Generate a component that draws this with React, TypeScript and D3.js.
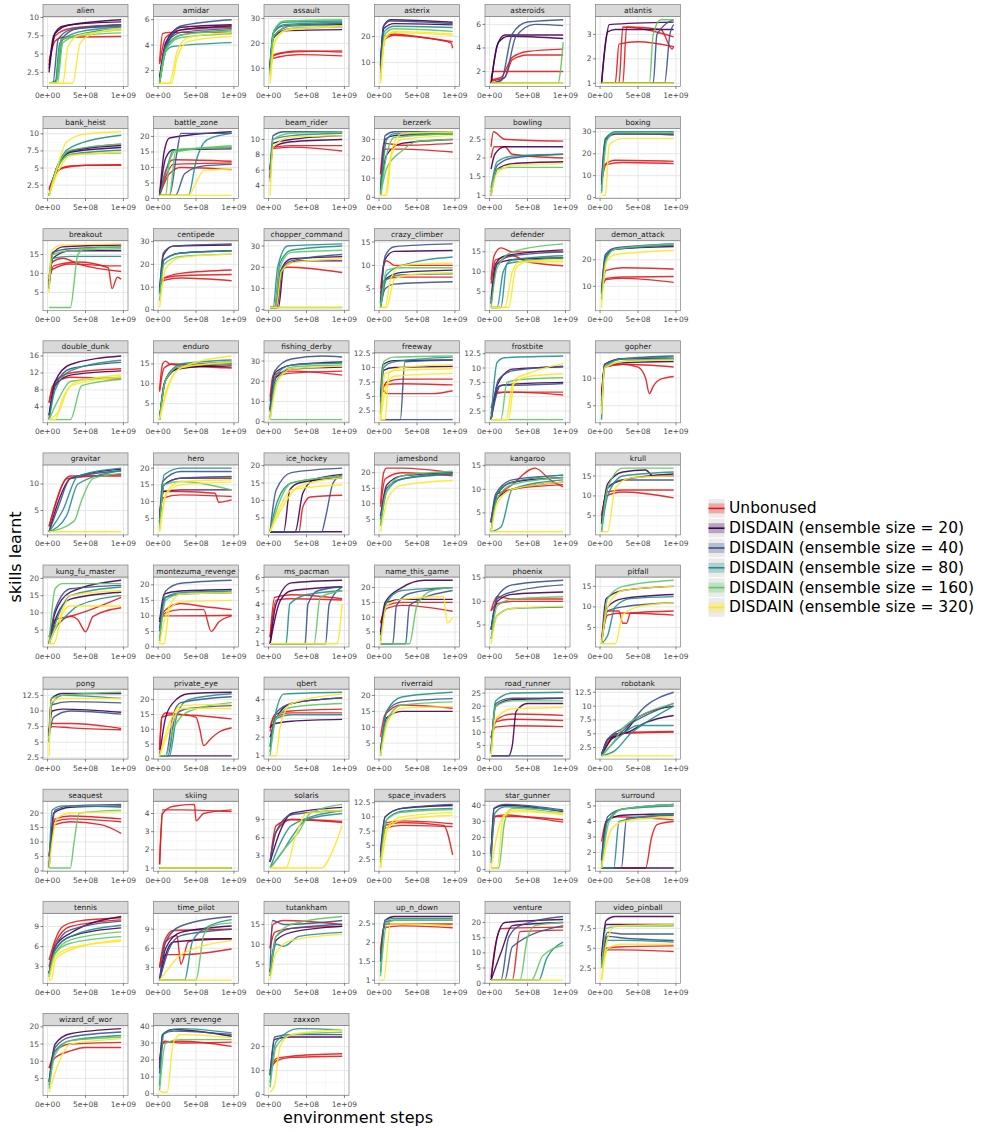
import React from 'react';
import * as d3 from 'd3';

const GAMES = [
  'alien', 'amidar', 'assault', 'asterix', 'asteroids', 'atlantis',
  'bank_heist', 'battle_zone', 'beam_rider', 'berzerk', 'bowling', 'boxing',
  'breakout', 'centipede', 'chopper_command', 'crazy_climber', 'defender', 'demon_attack',
  'double_dunk', 'enduro', 'fishing_derby', 'freeway', 'frostbite', 'gopher',
  'gravitar', 'hero', 'ice_hockey', 'jamesbond', 'kangaroo', 'krull',
  'kung_fu_master', 'montezuma_revenge', 'ms_pacman', 'name_this_game', 'phoenix', 'pitfall',
  'pong', 'private_eye', 'qbert', 'riverraid', 'road_runner', 'robotank',
  'seaquest', 'skiing', 'solaris', 'space_invaders', 'star_gunner', 'surround',
  'tennis', 'time_pilot', 'tutankham', 'up_n_down', 'venture', 'video_pinball',
  'wizard_of_wor', 'yars_revenge', 'zaxxon',
];

const Y_TICKS = [
  [2.5, 5, 7.5, 10], [2, 4, 6], [10, 20, 30], [10, 20], [2, 4, 6], [1, 2, 3],
  [2.5, 5, 7.5, 10], [0, 5, 10, 15, 20], [4, 6, 8, 10], [0, 10, 20, 30], [1, 1.5, 2, 2.5], [0, 10, 20, 30],
  [5, 10, 15], [0, 10, 20, 30], [0, 10, 20, 30], [5, 10, 15], [5, 10, 15], [10, 20],
  [4, 8, 12, 16], [5, 10, 15], [0, 10, 20, 30], [2.5, 5, 7.5, 10, 12.5], [2.5, 5, 7.5, 10, 12.5], [5, 10],
  [5, 10], [5, 10, 15, 20], [5, 10, 15, 20], [5, 10, 15, 20], [5, 10, 15], [5, 10, 15],
  [5, 10, 15, 20], [0, 5, 10, 15, 20], [1, 2, 3, 4, 5, 6], [0, 5, 10, 15, 20], [5, 10, 15], [5, 10, 15],
  [2.5, 5, 7.5, 10, 12.5], [0, 5, 10, 15, 20], [1, 2, 3, 4], [5, 10, 15, 20], [0, 5, 10, 15, 20, 25], [2.5, 5, 7.5, 10, 12.5],
  [0, 5, 10, 15, 20], [1, 2, 3, 4], [3, 6, 9], [2.5, 5, 7.5, 10, 12.5], [0, 10, 20, 30, 40], [1, 2, 3, 4, 5],
  [3, 6, 9], [3, 6, 9], [5, 10, 15], [1, 1.5, 2, 2.5], [0, 5, 10, 15, 20], [2.5, 5, 7.5],
  [5, 10, 15, 20], [0, 10, 20, 30, 40], [0, 10, 20],
];

const X_TICKS = [0, 5e8, 1e9];
const X_TICK_LABELS = ['0e+00', '5e+08', '1e+09'];

const SERIES_NAMES = [
  'Unbonused',
  'DISDAIN (ensemble size = 20)',
  'DISDAIN (ensemble size = 40)',
  'DISDAIN (ensemble size = 80)',
  'DISDAIN (ensemble size = 160)',
  'DISDAIN (ensemble size = 320)',
];
const SERIES_COLORS = ['#E41A1C', '#440154', '#3B528B', '#21908C', '#5DC863', '#FDE725'];

// one string per game; runs split by ';', points "step(1e8),skills"
const UNBONUSED = [
  '0.2,4 1,6.8 2,7.3 9.7,7.4;0.2,3.5 1,7.5 3,8.5 9.7,9',
  '0.2,2.7 0.6,4.9 1.5,5 9.7,5;0.2,2.5 1,4.6 3,5.2 9.7,5.4',
  '0.2,11 0.6,15 3,16.5 9.7,17;0.2,10 0.6,14 4,15.5 9.7,15;0.2,10 0.7,15.5 4,17 9.7,16.5',
  '0.2,8 0.7,20 2,21 5,20 9.7,18;0.2,7 0.8,19 2,20.5 6,19.5 9.5,17.5 9.7,15.5',
  '0.2,1.4 0.5,2 9.7,2;0.2,1.3 1.5,1.5 3,3.2 5,3.7 9.7,3.9;0.2,1.2 2,1.5 3,3 5,3.4 9.7,3.4',
  '0.2,1 2.5,1 3,3.3 6,3.2 9.7,2.9;0.2,1 2,1 2.5,2.6 5,2.7 9.7,2.5;0.2,1 3,1 3.5,3.3 8,3.2 9.5,2.4 9.7,2.5',
  '0.2,2 1,4 2,5 5,5.4 9.7,5.4;0.2,1.8 1.2,4.5 3,5.3 9.7,5.5',
  '0.2,1 1,7 2,11 9.7,11.5;0.2,1 1,9 2,12.5 9.7,12;0.2,1 1.5,8 3,10 9.7,9.3',
  '0.2,5 0.6,9 3,9.2 9.7,9.2;0.2,5 0.6,8.8 3,9 9.7,8.5',
  '0.2,12 0.6,28 3,27 9.7,28;0.2,12 0.8,25 3,25 9.7,23.5',
  '0.2,2.3 0.5,2.7 2,2.5 9.7,2.45;0.2,2 0.6,2.3 2,2.3 3,2.1 9.7,2',
  '0.2,8 0.6,15 2,17 9.7,16.5;0.2,7 0.8,15 3,16 9.7,15.5',
  '0.2,8 0.6,11 3,12.5 8.5,12 9.7,12;0.2,8 0.8,12 4,13 8,11.5 8.5,6 9.2,9 9.7,8.5;0.2,9 0.6,13 2,14 4,12.5 9.7,10.5',
  '0.2,10 0.8,14 3,16 9.7,17.5;0.2,10 0.8,13 3,14 9.7,12.8;0.2,10 0.8,14 3,15 9.7,15.5',
  '0.2,1 1,1 1.5,18 2.5,20 9.7,17.5',
  '0.2,5 0.6,10 1,11 2,10 9.7,10;0.2,4 0.8,7 3,7.5 9.7,7.5',
  '0.2,8 0.6,14 1.5,16 3,15 9.7,15;0.2,7 0.8,13 3,14 5,12.5 9.7,11.5',
  '0.2,9 0.8,16 3,17 9.7,16.5;0.2,9 0.8,12.5 3,13 9.7,11.5;0.2,9 0.8,13 3,13.5 9.7,13.7',
  '0.2,5 0.7,9 3,11 9.7,10.5;0.2,5 1,10 3,12 9.7,13',
  '0.2,8.5 0.6,15 1,15.7 1.5,15 9.7,14;0.2,8 0.8,14 2,15 9.7,14',
  '0.2,12 0.6,23 3,25 9.7,23;0.2,10 0.8,22 3,24 9.7,25',
  '0.2,4 0.6,6 1,5.5 7,5.5 9.7,6;0.2,5 0.7,7 3,7.2 9.7,7;0.2,5 1,7.5 3,8 9.7,8',
  '0.2,3 1,5.8 3,5.8 9.7,5.3;0.2,2 1,5.6 3,5.8 9.7,5.8',
  '0.2,7 0.6,12 3,12.5 5,12 6,10 6.5,7.2 7,8.5 8,9.8 9.7,10.3;0.2,7 0.6,12 3,12.5 9.7,12',
  '0.2,2 1,6 2,10 3,11.5 9.7,11.5;0.2,2 1.2,7 2.5,11 9.7,11.8',
  '0.2,5 0.6,11 3,12 9.7,11.5;0.2,7 0.8,13 3,13 7.5,12.5 8,9.8 9.7,10.5',
  '0.2,1 4,1 4.5,8 5.5,11 9.7,11.5',
  '0.2,10 0.6,20 1,21.5 3,21.5 9.7,20;0.2,9 0.8,18 3,20 9.7,19',
  '0.2,3 1,8 3,11 6,14.5 8,12 9.7,10.5;0.2,3 1,9 3,10 9.7,11',
  '0.2,5 0.8,10 3,11 9.7,9.5;0.2,5 1,11 3,11.5 9.7,11.5',
  '0.2,3 1,6 2,8 3,9 4,8 4.5,6 5,4.5 6,9 9.7,11.5;0.2,3 1,8 3,9 9.7,14.5',
  '0.2,9 0.8,10 2,10 9.7,10.2;0.2,9 1,11 3,12 6,12 7,5 8,8 9.7,10;0.2,9 1,12 3,14 6,13 9.7,12',
  '0.2,1.5 0.8,4.5 3,4.7 9.7,4.4;0.2,1.5 1,4.3 3,4.4 9.7,4.3',
  '0.2,8 1,14 3,15 9.7,15;0.2,8 1,13 3,14 9.7,12',
  '0.2,8 0.6,10 1,11 3,10.5 9.7,10.5;0.2,8 1,9.5 3,10 9.7,10',
  '0.2,2 1,8 3,8.5 9.7,8;0.2,2 1,9 2.5,9 3,6 3.5,6 4,8.5 9.7,9',
  '0.2,7 0.6,8 3,8 8,7.5 9.7,7.2;0.2,7 0.6,7.5 3,7.3 9.7,7',
  '0.2,3 0.5,14 1,15.5 3,15 5,14 5.5,10 6,4.5 7,7 8,9 9.7,10.5;0.2,3 0.5,14 2,15 9.7,13.5',
  '0.2,2.3 0.6,3 3,3.3 9.7,3.3;0.2,2.5 0.8,3.2 3,3.4 9.7,3.5',
  '0.2,7 0.8,14 3,17 9.7,16',
  '0.2,8 0.8,12 3,12.5 9.7,12.2;0.2,8 0.8,14 3,15 9.7,14.5;0.2,8 1,15 3,17 9.7,16.5',
  '0.2,1.5 1,3 2,5 9.7,5.3;0.2,1.5 1,3.5 3,5.2 9.7,5.4',
  '0.2,5 0.8,17 3,18 9.7,17;0.2,5 1,16 3,17 7,16 9.7,13;0.2,5 1,18 3,19 9.7,18',
  '0.2,1.2 0.6,4 2,4.4 4.8,4.5 5,3.6 6,4 9.7,4.2;0.2,1.2 0.6,4.2 3,4.2 9.7,4.1',
  '0.2,2 1,7 3,9 9.7,8.7;0.2,2 1,8 3,9 9.7,8.5',
  '0.2,3 0.8,8.5 3,9 8.5,8.5 9.7,3.3;0.2,3 0.8,8 3,8.5 9.7,8.3;0.2,3 1,9 3,9.3 9.7,8.8',
  '0.2,10 0.6,33 2,34 6,32 9.7,29.5;0.2,12 0.8,33 3,33 9.7,31',
  '0.2,2.7 0.8,4 2,4.3 9.7,4.1;0.2,1 6,1 6.8,3 7.5,3.8 9.7,4',
  '0.2,4 1,7 2,9 4,9.8 9.7,10.3;0.2,3 1,6.5 3,9 9.7,10',
  '0.2,3 0.8,7 2,8.8 9.7,9;0.2,3 1,7 2.5,8 3,3.5 4,7 6,7.5 9.7,7.5;0.2,3 1,5 3,5 9.7,5.9',
  '0.2,9 0.6,15 2,16 9.7,15;0.2,9 0.8,13 3,14 9.7,14.5',
  '0.2,1.7 0.6,2.4 3,2.45 9.7,2.4;0.2,1.8 0.8,2.5 3,2.5 9.7,2.5',
  '0.2,2 0.6,10 1.5,18 9.7,18.5;0.2,1 3,1 4,17 9.7,17.5',
  '0.2,3 1,4.8 3,4.8 9.7,4.6;0.2,3 0.8,5 3,5.2 9.7,5.3',
  '0.2,8 1,11 3,13 5,14 9.7,14;0.2,8 1,13 3,15 9.7,15.5',
  '0.2,20 0.6,30 3,31 9.7,28;0.2,18 0.8,31 3,30 9.7,30.5',
  '0.2,10 1,14 3,15.5 9.7,16;0.2,10 1,15 3,16 9.7,17',
];

const DISDAIN_20 = [
  '0.2,3 0.8,7.5 2,8.8 9.7,9.7;0.2,2.5 1,7.8 3,9 9.7,9.4',
  '0.2,1.5 1,4 3,5.2 9.7,5.5;0.2,1.2 1,4.2 3,5.4 9.7,5.6',
  '0.2,10 0.6,22 2,25 9.7,25.5;0.2,11 0.7,23 3,27 9.7,27.5',
  '0.2,10 0.6,24 1.5,26.5 9.7,25.5;0.2,9 0.6,23 2,25 9.7,24.5',
  '0.2,1 1,4.2 2,5.1 9.7,5.1;0.2,1 1.2,4.5 2.5,5 9.7,4.8',
  '0.2,1 0.8,2.8 1.2,3.4 9.7,3.5;0.2,1 1,3.1 2,3.2 9.7,3.2',
  '0.2,1 1.2,5 3,7.3 9.7,8;0.2,1 1.3,5 3,7.5 9.7,8.3',
  '0.2,1 0.8,15 1.5,19.5 9.7,21.5;0.2,1 1,13 2,15.7 9.7,16',
  '0.2,6 0.6,9.5 3,10 9.7,10.5;0.2,6 0.6,9 3,9.7 9.7,10',
  '0.2,3 1,22 3,28 9.7,30;0.2,4 0.8,30 2,32 9.7,33',
  '0.2,1.7 0.7,2.1 2,2.3 9.7,2.3;0.2,1 1,1.7 3,1.85 9.7,1.9',
  '0.2,6 0.7,26 2,29 9.7,29',
  '0.2,6 0.6,15 2,17 9.7,17.5;0.2,7 0.7,14 3,16 9.7,16',
  '0.2,8 0.7,24 2,28 9.7,28.5;0.2,8 0.8,22 3,25 9.7,26',
  '0.2,1 1.1,1 1.8,20 3,24 9.7,25;0.2,1 1.3,1 2,20 4,23 9.7,23',
  '0.2,2 0.7,11 2,13 9.7,13.2;0.2,2 0.8,7 3,8.5 9.7,9',
  '0.2,3 0.8,12 2,14 9.7,15.5;0.2,2 1,12 3,13 9.7,13.5',
  '0.2,8 0.7,21 2,24 9.7,25',
  '0.2,2 1,10 3,14 9.7,16;0.2,2 1,9 3,11.5 9.7,12.5',
  '0.2,1 0.8,10 2,13.5 9.7,15;0.2,1 1,11 3,14 9.7,14.5',
  '0.2,6 0.8,24 3,28 9.7,29.5;0.2,5 1,22 3,26 9.7,27',
  '0.2,5 0.5,10.5 2,11.2 9.7,11.3;0.2,4 0.6,9.5 2,10 9.7,10.2',
  '0.2,1 1,7 3,9.8 9.7,10.2;0.2,1 1.2,6.8 3,7.2 9.7,7.5',
  '0.2,6 0.6,12.5 3,13.5 9.7,13.5;0.2,5 0.6,12 3,12.8 9.7,13',
  '0.2,1 1.5,7 3,11 9.7,12.8',
  '0.2,4 0.6,13 3,13.5 9.7,13.5;0.2,4 0.8,15 3,17 9.7,17',
  '0.2,1 2,1 2.8,13 4,15 9.7,16.5;0.2,1 3.5,1 4.5,12 6,16 9.7,17.5;0.2,1 9.7,1',
  '0.2,6 1,16 3,19 9.7,20',
  '0.2,3.5 1,9 3,11.5 9.7,12.5;0.2,3 1,8 3,10 9.7,11.5',
  '0.2,3.5 1,13 3,16 6,16.5 7,15 9.7,15;0.2,3 1,12 3,14 9.7,15.5',
  '0.2,1 1,10 3,16 9.7,19.5;0.2,1 1.2,9 3,14 9.7,16',
  '0.2,8 0.8,17 3,18 9.7,18.5',
  '0.2,1 1,4 3,5.6 9.7,5.8;0.2,1 1.5,4.2 3,5 9.7,5.3',
  '0.2,5 0.8,15 3,20 6,22.5 9.7,22.5;0.2,4 1,15 3,16 9.7,16',
  '0.2,4 1,10 3,11.5 9.7,12',
  '0.2,1 0.8,12 3,14 9.7,15;0.2,1 1,10 3,12 9.7,13',
  '0.2,6.5 0.5,12 2,12.8 9.7,12.8;0.2,6.5 0.6,10 2,10.3 9.7,9.8',
  '0.2,1 9.7,1;0.2,1 1,14 2,19 4,22 9.7,22.5',
  '0.2,2.5 0.6,2.7 3,2.85 9.7,2.95;0.2,2 1,3 3,3.8 9.7,4.1',
  '0.2,3 1,13 3,15 9.7,15',
  '0.2,1 2.5,1 3,5 3.5,18 5,21 9.7,21;0.2,3 0.8,20 3,22.5 9.7,23',
  '0.2,1 1,4 3,5 5,8 9.7,10;0.2,1 1.5,4 4,5.5 6,7 9.7,8.3',
  '0.2,1 0.8,20 3,22 9.7,22.5',
  '0.2,1 9.7,1',
  '0.2,2 1.5,7 3,10 9.7,11',
  '0.2,4 0.8,10 3,11.5 9.7,12',
  '0.2,10 0.6,38 2,40 9.7,36',
  '0.2,1 9.7,1;0.2,1.5 0.8,4 3,4.4 9.7,4.5',
  '0.2,2 1,6 3,8 9.7,10.5;0.2,2 1,5.5 3,7.5 9.7,8.8',
  '0.2,1 1,5 2,7 9.7,7.5;0.2,1 1,6 3,8.5 9.7,9.5',
  '0.2,3 1,11 3,13 9.7,14.5',
  '0.2,1.5 0.8,2.6 2,2.7 9.7,2.7',
  '0.2,1 1,15 2,20 9.7,21;0.2,1 1.5,10 3,19 9.7,20',
  '0.2,4 0.8,8.5 2,9 9.7,9;0.2,3.5 0.8,8 3,8 9.7,8',
  '0.2,4 1,15 3,18 9.7,19.5',
  '0.2,15 0.6,35 2,38 9.7,34',
  '0.2,8 0.8,23 3,24 9.7,24',
];

const DISDAIN_40 = [
  '0.2,1 0.7,1 1.4,7 3,8.3 9.7,9;0.2,1 1,1 1.8,7 4,8.5 9.7,8.8',
  '0.2,1 1.2,4 3,5.5 9.7,6;0.2,1 1,4 3,5 9.7,5.3',
  '0.2,11 0.6,24 2,27 9.7,28;0.2,12 0.6,22 3,26 9.7,26.5',
  '0.2,9 0.6,24 1.5,26 9.7,25',
  '0.2,1 1.5,1.2 3,5.2 5,6.2 9.7,6.4;0.2,1 2,1.5 3.5,5 6,6 9.7,5.9',
  '0.2,1 7,1 7.5,3 9.7,3.6;0.2,1 8.5,1 9.2,3 9.7,3.4;0.2,1 9.7,1',
  '0.2,1 1.2,5 3,7.5 9.7,8.5',
  '0.2,1 1.5,1 2.5,15 3,21 9.7,21;0.2,1 2.3,1 3.5,8 6,10.5 9.7,11',
  '0.2,6 0.6,10.5 2,11 9.7,11',
  '0.2,2 0.8,32 2,34 9.7,34',
  '0.2,1.1 1,1.8 3,2 9.7,2.1',
  '0.2,8 0.7,27 2,29.5 9.7,28.5',
  '0.2,8 0.6,15.5 3,16.5 9.7,17',
  '0.2,8 0.7,25 2,28 9.7,29',
  '0.2,1 0.8,1 1.5,18 3,23 9.7,26',
  '0.2,2 0.8,12 2,14 9.7,14.6;0.2,1 0.8,5 2,6 9.7,6.5',
  '0.2,2 1,12 3,14 9.7,15',
  '0.2,8 0.7,22 2,24.5 9.7,26',
  '0.2,1 1,9 3,13 9.7,14.5',
  '0.2,1 1,11 3,14.5 9.7,15.5',
  '0.2,6 0.8,25 3,31 7,32.5 9.7,32',
  '0.2,1 2.8,1 3.4,11 9.7,11.3;0.2,1 9.7,1',
  '0.2,1 1.5,7 3,7 9.7,7.3;0.2,1 1.2,8 3,9.5 9.7,10.3',
  '0.2,5 0.6,12.5 3,13.5 9.7,14',
  '0.2,1 1.5,6 3,11 9.7,12.5',
  '0.2,4 0.6,16 3,19 9.7,19;0.2,3 0.8,15 3,17 9.7,17.5',
  '0.2,1 1,13 3,18 9.7,19.3;0.2,1 7,1 7.5,5 8.5,15 9.7,17.5',
  '0.2,5 1,15 3,18 9.7,19.5',
  '0.2,3 0.8,9 3,12 9.7,13',
  '0.2,3 1,12 3,14 9.7,14',
  '0.2,1 1,11 3,17 9.7,18',
  '0.2,6 1,18 3,20.5 9.7,21.5;0.2,5 1,16 3,17 9.7,17.5',
  '0.2,1 4.8,1 5.2,4 6.5,5 9.7,5.3;0.2,1 7.5,1 8,4 9.7,5.3',
  '0.2,1 1.8,1 2.3,14 4,18 9.7,20;0.2,1 3.5,1 4,14 9.7,19',
  '0.2,4 1,11 3,13.5 9.7,14.5;0.2,4 1,10.5 3,12 9.7,13.5',
  '0.2,1 1,9 3,10 9.7,11',
  '0.2,6 0.8,9 3,10 9.7,9.5;0.2,6 0.6,11 3,11.5 9.7,11.3',
  '0.2,1 1,1 2,15 3,19 9.7,21;0.2,1 1.3,1 2.3,15 4,17 9.7,18',
  '0.2,1.5 1,3.3 3,3.8 9.7,4.1',
  '0.2,2 1,15 3,18 9.7,19',
  '0.2,1 9.7,1;0.2,3 0.8,21 3,23 9.7,23',
  '0.2,1 1,4 3,5.5 6,10 9.7,12.5;0.2,1 1,4 3,6 9.7,10.5',
  '0.2,1 1,21 3,22.5 9.7,23',
  '0.2,1 9.7,1',
  '0.2,2 1,7 3,9.8 9.7,10.5',
  '0.2,3 0.8,10 3,11.5 9.7,12.2',
  '0.2,8 0.6,38 2,40.5 9.7,37',
  '0.2,1 2.8,1 3.5,4.2 9.7,4.4;0.2,1.5 1,4.3 3,4.8 9.7,5.1',
  '0.2,2 1,6 3,8.5 9.7,9.8',
  '0.2,1 1,7 3,9.5 9.7,11;0.2,1 1.5,6 3,8 9.7,9',
  '0.2,3 0.5,16 2,15 9.7,16;0.2,3 1,12 3,14 9.7,15',
  '0.2,1.5 0.8,2.55 2,2.6 9.7,2.6',
  '0.2,1 1.5,1 2.5,15 4,19 9.7,22;0.2,1 2,1 3,12 9.7,19',
  '0.2,3 1,6.5 3,6.3 9.7,6;0.2,3 1,7 3,6.8 9.7,6.8',
  '0.2,4 1,14 3,17 9.7,18.5',
  '0.2,12 0.6,35 2,37 9.7,35',
  '0.2,8 0.8,24 3,25 9.7,25',
];

const DISDAIN_80 = [
  '0.2,1 1,1 1.6,6.5 4,8 9.7,8.7;0.2,1 1.2,1.5 2,7 9.7,8.5',
  '0.2,1 1,3.5 2,3.9 9.7,4.2;0.2,1 1,3.8 3,4.8 9.7,5.2',
  '0.2,9 0.7,25 2,28.5 9.7,29;0.2,9 0.6,24 2,27.5 9.7,28.5',
  '0.2,6 0.7,22 2,24 9.7,23.5',
  '0.2,1 9.7,1',
  '0.2,1 9.7,1',
  '0.2,1 1.2,5 3,8 9.7,9.8;0.2,1 1.3,5 3,7 9.7,7.6',
  '0.2,1 4,1 5,12 6.5,19 9.7,21;0.2,1 1.2,10 2,15.5 9.7,16.5',
  '0.2,5 0.6,10 3,10.5 9.7,10.8',
  '0.2,2 1,30 2,33 9.7,33',
  '0.2,1.2 1,1.9 3,2.05 9.7,2.1',
  '0.2,3 0.8,27 2,30 9.7,30',
  '0.2,7 0.7,14 3,14.5 9.7,14.5',
  '0.2,7 0.8,22 3,25 9.7,26',
  '0.2,1 0.6,1 1.2,20 2.5,30 9.7,31;0.2,1 0.8,1 1.5,22 3,28 9.7,30',
  '0.2,1 1,8 3,10 9.7,11.8;0.2,1 1,7 3,8 9.7,8.2',
  '0.2,1 1,1 1.8,10 3,13 9.7,14;0.2,1 1.5,1 2.3,12 9.7,13.5',
  '0.2,7 0.8,21 2,24 9.7,25.5',
  '0.2,1 1,8 3,12.5 9.7,15',
  '0.2,1 1,11 3,15 9.7,16',
  '0.2,2 1,23 3,28 9.7,29',
  '0.2,2 0.6,10 2,11 9.7,11.8',
  '0.2,1 1,11 2,11.8 9.7,12.1',
  '0.2,2.5 0.6,12 3,13.5 9.7,13.8',
  '0.2,1 2,5 4,11.5 9.7,13;0.2,1 2.5,4 4,10 9.7,12.5',
  '0.2,2 0.8,18 3,20 9.7,20',
  '0.2,1 1.2,10 3,15 9.7,17',
  '0.2,3 1,14 3,18 9.7,20',
  '0.2,1 1.5,2 3,10 9.7,12;0.2,1 1,9 3,11.5 9.7,13',
  '0.2,1 1,10 3,15 9.7,16',
  '0.2,1 1.2,8 3,15 9.7,17.5;0.2,1 1.2,6 2,8 4,12 9.7,15',
  '0.2,2 1,16 3,17.5 9.7,18',
  '0.2,1 2.3,1 2.8,4 5,4.7 9.7,5',
  '0.2,2 1,15 3,19 9.7,20',
  '0.2,2 1,7 3,8.5 9.7,8.8',
  '0.2,1 1,3 2,10 4,12 9.7,12.5',
  '0.2,5 0.5,11 2,12.5 9.7,12',
  '0.2,1 1.5,1 2.5,15 4,20 9.7,22',
  '0.2,1.5 1,3.4 2,4.3 9.7,4.4;0.2,1.2 1,3 3,3.2 9.7,3.2',
  '0.2,1 1,15 3,19.5 9.7,21',
  '0.2,2 0.8,22 3,25 9.7,25.3',
  '0.2,1 2,2 4,5 6,7 9.7,10;0.2,1 1.5,3 3,5 5,6.5 9.7,6.5',
  '0.2,1 0.6,21 2,22.5 9.7,22',
  '0.2,1 9.7,1',
  '0.2,1 2,4 3,6 5,9 9.7,10;0.2,1 1.5,5 3,8 9.7,10.5',
  '0.2,2 1,9.5 3,11 9.7,11.5',
  '0.2,4 0.7,35 2,39 9.7,36.5',
  '0.2,1 1.8,1 2.5,4 9.7,4.5;0.2,1 1,4 3,4.8 9.7,5',
  '0.2,2 1,5.5 3,7.5 9.7,9.2',
  '0.2,1 3.5,1 4.5,7 6,9 9.7,10.5',
  '0.2,2 1,10 2,9.5 4,12 9.7,13',
  '0.2,1.2 0.8,2.6 2,2.65 9.7,2.65',
  '0.2,1 6.5,1 7.5,8 9.7,13.5',
  '0.2,2.5 1,6 3,6 9.7,5.8',
  '0.2,3 1,13 3,16 9.7,17.5',
  '0.2,5 0.8,36 3,38.5 9.7,36',
  '0.2,5 1,22 4,27.5 9.7,27',
];

const DISDAIN_160 = [
  '0.2,1 1.3,1 2,6.5 4,7.5 9.7,7.9;0.2,1 1.1,1 1.8,7 9.7,8.3',
  '0.2,1 1,3.5 3,4.8 9.7,5.1;0.2,1 1.2,3.8 3,4.6 9.7,4.9',
  '0.2,8 0.7,25 2,29 9.7,29.5;0.2,7 0.7,23 3,27 9.7,27',
  '0.2,4 0.8,21 2,23 9.7,22',
  '0.2,1 9,1 9.7,4.5',
  '0.2,1 6.5,1 7,3 8,3.6 9.7,3.6',
  '0.2,1 1.3,5 3,7 9.7,7.2;0.2,1 1.2,5 3,7.6 9.7,8.5',
  '0.2,1 1,1 1.5,12 2.5,15.8 9.7,16.5;0.2,1 1.5,1 2.3,15 9.7,17',
  '0.2,4.5 0.6,10 3,10.8 9.7,11',
  '0.2,1 1,15 3,24 5,29 9.7,30;0.2,1 1,22 2,31 9.7,33',
  '0.2,1.1 1,1.7 3,1.75 9.7,1.75',
  '0.2,2 0.9,26 2,29.5 9.7,29.5',
  '0.2,1 3,1 4,15 5,16.5 9.7,17;0.2,6 0.7,15 3,16 9.7,16.5',
  '0.2,4 0.8,20 3,23.5 9.7,24.5',
  '0.2,1 9.7,1;0.2,1 0.8,1 1.5,20 3,27 9.7,28',
  '0.2,1 1,9 3,9.5 9.7,9.5',
  '0.2,1 1,11 3,15 9.7,17',
  '0.2,5 0.8,20 2,24 9.7,26',
  '0.2,1 3,1 4.5,9 9.7,10.5;0.2,1 1.5,6 3,10 9.7,11',
  '0.2,1 1,11 3,14.5 9.7,15',
  '0.2,1 9.7,1;0.2,1 1,20 3,27 9.7,28',
  '0.2,2 0.6,11 2,11.8 9.7,12',
  '0.2,1 9.7,1;0.2,1 1.5,1 2.3,7.5 4,8 9.7,8.3',
  '0.2,4 0.6,12 3,13 9.7,13.5',
  '0.2,1 3.5,3 4.5,7 6,11 9.7,12',
  '0.2,2 0.8,15 3,16 9.7,13.5',
  '0.2,1 1.5,10 3,15 9.7,17',
  '0.2,3 1,14 3,19 9.7,20.5',
  '0.2,1 1,8 3,11 9.7,12.5',
  '0.2,1 1,12 3,17 9.7,17',
  '0.2,1 1,17 2,18.5 9.7,18.5',
  '0.2,2 1,15 3,17 9.7,17.5',
  '0.2,1 6,1 6.8,4.5 9.7,5',
  '0.2,1 4,1 5,14 7,19 9.7,20',
  '0.2,2 1,9 3,10.5 9.7,11',
  '0.2,1 1,12 3,15 9.7,16.5',
  '0.2,5 0.5,12 2,12.5 9.7,13',
  '0.2,1 1,1 2,10 4,16 9.7,19',
  '0.2,1 1,3 3,3.6 9.7,3.8',
  '0.2,1 1,12 3,17 9.7,18',
  '0.2,2 0.8,20 3,22 9.7,22',
  '0.2,1 1.5,3 3,6 5,8 9.7,10.5',
  '0.2,1 3,1 3.5,10 4.2,20 9.7,21',
  '0.2,1 9.7,1',
  '0.2,1 2,4 4,7 5.5,10 9.7,11.5',
  '0.2,2 1,9.5 3,10.8 9.7,11.3',
  '0.2,1 1.2,1 2,30 3,38 9.7,35',
  '0.2,1 1.2,4 3,4.8 9.7,5.1',
  '0.2,1.5 1,5 3,7 9.7,8.2;0.2,1.5 1,5 3,6.5 9.7,7.5',
  '0.2,1 5,1 6,8 7,9.5 9.7,10',
  '0.2,2 1,12 3,15 9.7,17',
  '0.2,1.1 1,2.5 2,2.6 9.7,2.6',
  '0.2,1 4,1 5,15 6,19 9.7,20;0.2,1 5.5,1 7,9 9.7,12.5',
  '0.2,2.5 0.8,7.5 3,7.8 9.7,7.8',
  '0.2,2 1,12 3,16 9.7,17',
  '0.2,2 1,30 3,32 9.7,32',
  '0.2,3 1,20 3,25 9.7,26',
];

const DISDAIN_320 = [
  '0.2,1 2,1 2.7,6 4,7.5 9.7,8.3;0.2,1 3.3,1 4.3,6.5 6,7.8 9.7,8.5',
  '0.2,1 1.8,1 2.5,3 4,4.3 9.7,4.7;0.2,1 1.5,1 2.5,3.5 4,4.6 9.7,5',
  '0.2,4 0.8,20 2,25 9.7,27;0.2,5 0.8,21 3,26 9.7,26.5',
  '0.2,2 0.8,19 2,22 9.7,21;0.2,3 0.8,20 2,21.5 9.7,20.5',
  '0.2,1 9.7,1',
  '0.2,1 9.7,1',
  '0.2,1 1,4 2.5,8.8 5,10 9.7,10.3;0.2,1 1.4,4.5 3,6.8 9.7,7.3',
  '0.2,1 9.7,1;0.2,1 4,1 5,5 6,9 9.7,9.5',
  '0.2,2.7 0.6,9 3,10.3 9.7,10.5',
  '0.2,1 1,1 1.7,25 3,33 9.7,34;0.2,1 0.8,1 1.5,20 3,30 9.7,32',
  '0.2,1 1,1.6 3,1.8 9.7,1.85',
  '0.2,1 0.7,1 1.2,24 3,27 9.7,27',
  '0.2,5 0.5,16 2,17.5 9.7,17.8',
  '0.2,1 1,18 3,23 9.7,24.5',
  '0.2,1 9.7,1;0.2,1 1,1 1.7,18 3,22 9.7,24',
  '0.2,1 0.8,1 1.5,7 3,10 9.7,10.5;0.2,1 1,1 2,7 4,8 9.7,8.5',
  '0.2,1 2,1 3,10 4,12.5 9.7,13;0.2,1 2.5,1 3.5,11 5,12.5 9.7,12.5',
  '0.2,2 0.8,19 2,22 9.7,23.5',
  '0.2,1 1,1 2,6 4,10 9.7,11.5;0.2,1 1.5,3 3,9 9.7,11',
  '0.2,1 1.2,9 3,14 9.7,17;0.2,1 1.5,10 3,14 9.7,15.5',
  '0.2,1 1.2,20 3,26 9.7,27.5',
  '0.2,1 1,7 2,8.5 9.7,9;0.2,1 0.8,9 2,9.5 9.7,9.8;0.2,1 0.8,1 1.3,9 3,10 9.7,10.5',
  '0.2,1 2.5,1 3.3,8 5,9 9.7,10.8;0.2,1 2.2,1 3,7 5,8.5 9.7,9',
  '0.2,3.5 0.6,11.8 3,13 9.7,13.3',
  '0.2,1 9.7,1',
  '0.2,1 1,12 3,15 9.7,15.8;0.2,1 1.2,13 3,16 9.7,16.5',
  '0.2,1 1.5,8 3,13 9.7,14.5;0.2,1 1.8,8 4,14 9.7,16.5',
  '0.2,1 1.2,12 3,16 9.7,17.5',
  '0.2,1 9.7,1;0.2,1 1,7 3,10 9.7,11.5',
  '0.2,1 1,1 2,12 4,14.5 9.7,15',
  '0.2,1 0.8,1 2,10 3,12 9.7,12;0.2,1 1.5,8 3,15 9.7,16.5',
  '0.2,1 0.8,1 1.5,12 3,14.5 9.7,15;0.2,1 1,10 3,17 9.7,17.5',
  '0.2,1 9,1 9.7,4',
  '0.2,1 1,14 3,16 8.5,17 9,8 9.7,10',
  '0.2,1 1,7 3,8.5 9.7,9',
  '0.2,1 2,1 3,8 5,10 9.7,11;0.2,1 1,10 3,14 9.7,15',
  '0.2,2.8 0.5,11.5 2,12 9.7,12',
  '0.2,1 1.5,10 3,17 9.7,17;0.2,1 1.5,12 3,18 9.7,18.5',
  '0.2,1 1,1 1.5,2.5 3,3.8 9.7,4.3',
  '0.2,1 1.2,12 3,16 9.7,16.5',
  '0.2,1 0.8,15 3,19 9.7,19.5',
  '0.2,1 9.7,1',
  '0.2,1 1.2,18 3,20 9.7,20.5',
  '0.2,1 9.7,1',
  '0.2,1 2.3,1 3.5,6 5,10 9.7,10.5;0.2,1 7,1 8.5,4 9.7,8',
  '0.2,1 1,8 3,10 9.7,10.8;0.2,1 1.2,8 3,9.5 9.7,10.3',
  '0.2,1 1,1 1.8,33 3,37 9.7,34;0.2,1 1.5,30 3,36 9.7,35',
  '0.2,1 1.5,3.5 3,4 9.7,4.3',
  '0.2,1 0.5,1 1,4 3,5.5 9.7,7;0.2,1 1,4.5 3,5.8 9.7,6.8',
  '0.2,1 9.7,1;0.2,1 1.5,3 3,5 9.7,7.2',
  '0.2,1 1,8 3,11 9.7,12.5',
  '0.2,1 0.6,1 1.5,2.5 3,2.5 9.7,2.45',
  '0.2,1 9.7,1',
  '0.2,1 0.8,5.5 2,7.8 9.7,8;0.2,1 1,5 3,5.5 9.7,5.5',
  '0.2,1 1.2,8 3,15 9.7,16.5',
  '0.2,2 0.6,1 1.2,1 2,30 3,35 9.7,33',
  '0.2,1 0.8,4 1.5,20 3,25 9.7,27',
];

const SERIES_DATA = [UNBONUSED, DISDAIN_20, DISDAIN_40, DISDAIN_80, DISDAIN_160, DISDAIN_320];

// layout
const W = 989;
const H = 1132;
const LEFT0 = 43;
const COL_PITCH = 110.5;
const PANEL_W = 85;
const TOP0 = 4.5;
const ROW_PITCH = 112.1;
const STRIP_H = 12;
const PANEL_H = 70;

function parseRuns(s: string): [number, number][][] {
  return s.split(';').map(run =>
    run.trim().split(/\s+/).map(p => {
      const [a, b] = p.split(',');
      return [+a * 1e8, +b] as [number, number];
    })
  );
}

function Panel({ gi }: { gi: number }) {
  const col = gi % 6;
  const row = Math.floor(gi / 6);
  const left = LEFT0 + col * COL_PITCH;
  const top = TOP0 + row * ROW_PITCH;
  const pTop = top + STRIP_H;

  const runs = SERIES_DATA.map(series => parseRuns(series[gi]));
  const allY = runs.flat(2).map(p => p[1]);
  const [ymin, ymax] = d3.extent(allY) as [number, number];
  const pad = (ymax - ymin) * 0.05;

  const x = d3.scaleLinear().domain([-0.06e9, 1.06e9]).range([left, left + PANEL_W]);
  const y = d3.scaleLinear().domain([ymin - pad, ymax + pad]).range([pTop + PANEL_H, pTop]);
  const line = d3.line<[number, number]>().x(d => x(d[0])).y(d => y(d[1])).curve(d3.curveMonotoneX);

  const ticks = Y_TICKS[gi];
  const inDom = (v: number) => v >= ymin - pad && v <= ymax + pad;
  const step = ticks.length > 1 ? ticks[1] - ticks[0] : 1;
  const minor: number[] = [];
  for (let i = -1; i < ticks.length; i++) minor.push(ticks[0] + (i + 0.5) * step);

  return (
    <g>
      <rect x={left} y={pTop} width={PANEL_W} height={PANEL_H} fill="#fff" />
      {minor.filter(inDom).map((v, i) => (
        <line key={'ym' + i} x1={left} x2={left + PANEL_W} y1={y(v)} y2={y(v)} stroke="#f2f2f2" strokeWidth={0.5} />
      ))}
      {[2.5e8, 7.5e8].map((v, i) => (
        <line key={'xm' + i} x1={x(v)} x2={x(v)} y1={pTop} y2={pTop + PANEL_H} stroke="#f2f2f2" strokeWidth={0.5} />
      ))}
      {ticks.filter(inDom).map((v, i) => (
        <line key={'yg' + i} x1={left} x2={left + PANEL_W} y1={y(v)} y2={y(v)} stroke="#e4e4e4" strokeWidth={0.9} />
      ))}
      {X_TICKS.map((v, i) => (
        <line key={'xg' + i} x1={x(v)} x2={x(v)} y1={pTop} y2={pTop + PANEL_H} stroke="#e4e4e4" strokeWidth={0.9} />
      ))}
      {runs.map((sr, si) =>
        sr.map((r, ri) => (
          <path key={si + '-' + ri} d={line(r) || ''} fill="none" stroke={SERIES_COLORS[si]}
            strokeWidth={1.4} strokeOpacity={0.9} />
        ))
      )}
      <rect x={left} y={pTop} width={PANEL_W} height={PANEL_H} fill="none" stroke="#7f7f7f" strokeWidth={0.7} />
      <rect x={left} y={top} width={PANEL_W} height={STRIP_H} fill="#d9d9d9" stroke="#7f7f7f" strokeWidth={0.7} />
      <text x={left + PANEL_W / 2} y={top + STRIP_H / 2} textAnchor="middle" dominantBaseline="central"
        fontSize={7.5} fill="#1a1a1a">{GAMES[gi]}</text>
      {ticks.filter(inDom).map((v, i) => (
        <g key={'yt' + i}>
          <line x1={left - 2.5} x2={left} y1={y(v)} y2={y(v)} stroke="#333" strokeWidth={0.6} />
          <text x={left - 4} y={y(v)} textAnchor="end" dominantBaseline="central" fontSize={7.5} fill="#4d4d4d">{v}</text>
        </g>
      ))}
      {X_TICKS.map((v, i) => (
        <g key={'xt' + i}>
          <line x1={x(v)} x2={x(v)} y1={pTop + PANEL_H} y2={pTop + PANEL_H + 2.5} stroke="#333" strokeWidth={0.6} />
          <text x={x(v)} y={pTop + PANEL_H + 9} textAnchor="middle" dominantBaseline="central" fontSize={7.5} fill="#4d4d4d">
            {X_TICK_LABELS[i]}
          </text>
        </g>
      ))}
    </g>
  );
}

export default function App() {
  const legendX = 708;
  const legendY = 498.5;
  const keyH = 19.8;
  return (
    <svg width={W} height={H} style={{ position: 'absolute', left: 0, top: 0, fontFamily: 'DejaVu Sans, sans-serif' }}>
      <rect width={W} height={H} fill="#fff" />
      {GAMES.map((g, i) => <Panel key={g} gi={i} />)}
      <text transform="translate(15,557) rotate(-90)" textAnchor="middle" dominantBaseline="central" fontSize={16}>skills learnt</text>
      <text x={358} y={1117} textAnchor="middle" dominantBaseline="central" fontSize={16}>environment steps</text>
      {SERIES_NAMES.map((name, i) => {
        const ky = legendY + i * keyH;
        return (
          <g key={name}>
            <rect x={legendX} y={ky} width={17} height={keyH} fill="#ebebeb" stroke="#fff" strokeWidth={1} />
            <rect x={legendX + 0.5} y={ky + keyH / 2 - 5} width={16} height={10} fill={SERIES_COLORS[i]} fillOpacity={0.3} />
            <line x1={legendX + 0.5} x2={legendX + 16.5} y1={ky + keyH / 2} y2={ky + keyH / 2} stroke={SERIES_COLORS[i]} strokeWidth={1.6} />
            <text x={legendX + 21} y={ky + keyH / 2} dominantBaseline="central" fontSize={15.5}>{name}</text>
          </g>
        );
      })}
    </svg>
  );
}
